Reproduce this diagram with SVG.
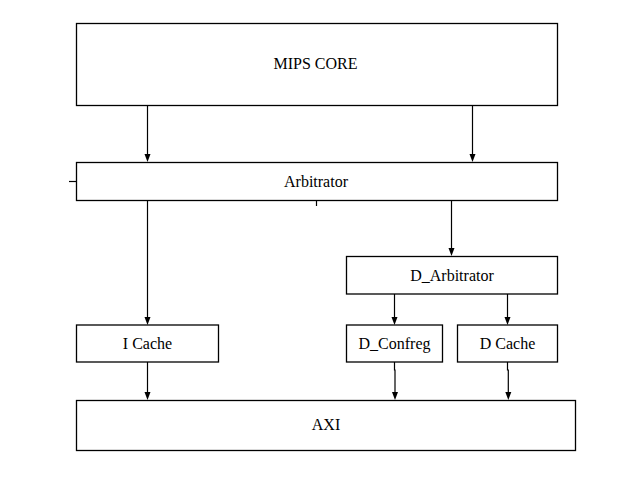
<svg xmlns="http://www.w3.org/2000/svg" width="641" height="482" viewBox="0 0 641 482">
<style>
.box{fill:#fff;stroke:#000;stroke-width:1.3}
.lbl{font-size:16px;fill:#000;text-anchor:middle}
.ln{stroke:#000;stroke-width:1.2;fill:none}
</style>
<rect width="641" height="482" fill="#fff"/>
<g id="connectors">
<line class="ln" x1="147.5" y1="106" x2="147.5" y2="154"/>
<path d="M144.5,154 L150.5,154 L147.5,162 Z"/>
<line class="ln" x1="472.5" y1="106" x2="472.5" y2="154"/>
<path d="M469.5,154 L475.5,154 L472.5,162 Z"/>
<line class="ln" x1="69" y1="181.5" x2="76.5" y2="181.5"/>
<line class="ln" x1="316.5" y1="200.5" x2="316.5" y2="206"/>
<line class="ln" x1="147.5" y1="200.5" x2="147.5" y2="317"/>
<path d="M144.5,317 L150.5,317 L147.5,325 Z"/>
<line class="ln" x1="451.5" y1="200.5" x2="451.5" y2="248"/>
<path d="M448.5,248 L454.5,248 L451.5,256 Z"/>
<line class="ln" x1="394.5" y1="294" x2="394.5" y2="317"/>
<path d="M391.5,317 L397.5,317 L394.5,325 Z"/>
<line class="ln" x1="507.5" y1="294" x2="507.5" y2="317"/>
<path d="M504.5,317 L510.5,317 L507.5,325 Z"/>
<line class="ln" x1="147.5" y1="362" x2="147.5" y2="392"/>
<path d="M144.5,392 L150.5,392 L147.5,400 Z"/>
<path class="ln" d="M394.5,362 L394.5,370 L395,370 L395,392"/>
<path d="M392,392 L398,392 L395,400 Z"/>
<path class="ln" d="M507.5,362 L507.5,370 L508.3,370 L508.3,392"/>
<path d="M505.3,392 L511.3,392 L508.3,400 Z"/>
</g>
<g font-family="'Liberation Serif', 'Times New Roman', 'DejaVu Serif', serif">
<g id="mips_core">
<rect class="box" x="76.5" y="23.5" width="481" height="82"/>
<text class="lbl" x="315.5" y="68.5">MIPS CORE</text>
</g>
<g id="arbitrator">
<rect class="box" x="76.5" y="162.5" width="481" height="38"/>
<text class="lbl" x="316" y="186.5">Arbitrator</text>
</g>
<g id="d_arbitrator">
<rect class="box" x="346.5" y="256.5" width="211" height="37.5"/>
<text class="lbl" x="452" y="280.5">D_Arbitrator</text>
</g>
<g id="i_cache">
<rect class="box" x="76.5" y="325" width="142" height="37"/>
<text class="lbl" x="147.5" y="348.5">I Cache</text>
</g>
<g id="d_confreg">
<rect class="box" x="346.5" y="325" width="96" height="37"/>
<text class="lbl" x="394.5" y="348.5">D_Confreg</text>
</g>
<g id="d_cache">
<rect class="box" x="457.5" y="325" width="100" height="37"/>
<text class="lbl" x="507.5" y="348.5">D Cache</text>
</g>
<g id="axi">
<rect class="box" x="76.5" y="400.5" width="499" height="50"/>
<text class="lbl" x="326" y="429.5">AXI</text>
</g>
</g>
</svg>
